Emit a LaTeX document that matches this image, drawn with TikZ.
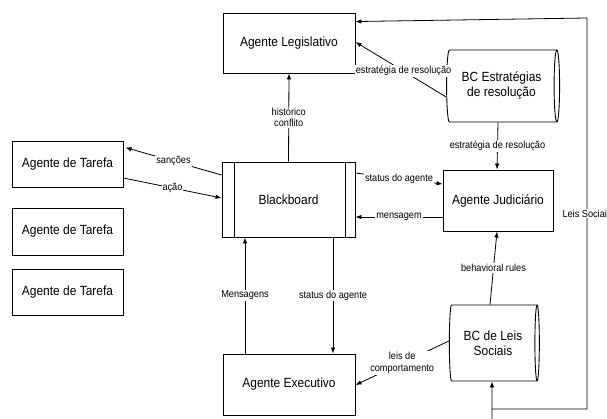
\documentclass[tikz,border=0pt]{standalone}
\usepackage{fontspec}
\setmainfont{Liberation Sans}[FakeStretch=0.9]
\usetikzlibrary{arrows.meta,shapes.geometric}
\begin{document}
\begin{tikzpicture}[x=1pt,y=-1pt,
  box/.style={draw,line width=0.9pt,inner sep=0pt,font=\fontsize{13.3}{15}\selectfont,align=center},
  cyl/.style={draw,line width=0.9pt,cylinder,shape border rotate=0,inner sep=0pt,font=\fontsize{13.3}{15}\selectfont,align=center},
  lbl/.style={fill=white,inner sep=1pt,font=\fontsize{10.2}{11.5}\selectfont,align=center},
  arr/.style={line width=0.8pt,-{Latex[length=6pt,width=4.5pt]}},
  ln/.style={line width=0.8pt}]
\path[use as bounding box,fill=white] (0,0) rectangle (607,419);

\node[box,minimum width=132pt,minimum height=60pt] (leg) at (289,43) {Agente Legislativo};
\node[box,minimum width=133pt,minimum height=75pt] (bb) at (288.5,199.5) {Blackboard};
\draw[line width=0.9pt] ([xshift=13pt]bb.north west) -- ([xshift=13pt]bb.south west);
\draw[line width=0.9pt] ([xshift=-10pt]bb.north east) -- ([xshift=-10pt]bb.south east);
\node[box,minimum width=111pt,minimum height=46pt] (t1) at (67.5,164) {Agente de Tarefa};
\node[box,minimum width=111pt,minimum height=47pt] (t2) at (67.5,231.5) {Agente de Tarefa};
\node[box,minimum width=111pt,minimum height=46pt] (t3) at (67.5,292) {Agente de Tarefa};
\node[box,minimum width=110pt,minimum height=61pt] (jud) at (498,200.5) {Agente Judiciário};
\node[box,minimum width=132pt,minimum height=61pt] (exe) at (289,384.5) {Agente Executivo};
\node[cyl,minimum height=113pt,minimum width=72pt,aspect=0.2] (bce) at (501.5,86) {BC Estratégias\\de resolução};
\node[cyl,minimum height=90pt,minimum width=76pt,aspect=0.18] (bcl) at (493,343) {BC de Leis\\Sociais};

% Tarefa <-> Blackboard
\draw[arr] ([yshift=24.5pt]bb.west) -- node[lbl]{sanções} ([xshift=2pt,yshift=-7pt]t1.north east);
\draw[arr] ([yshift=-14pt]t1.east) -- node[lbl]{ação} ([yshift=1.5pt]bb.west);

% Blackboard -> Legislativo
\draw[arr] (bb.north) -- node[lbl]{histórico\\conflito} (leg.south);
% BC Estrategias -> Legislativo
\draw[arr] ([yshift=-11pt]bce.west) -- node[lbl,pos=0.47]{estratégia de resolução} ([yshift=1pt]leg.east);
% BC Estrategias -> Judiciario
\draw[arr] ([xshift=-3.5pt]bce.south) -- node[lbl]{estratégia de resolução} ([xshift=-1pt]jud.north);
% Blackboard <-> Judiciario
\draw[arr] ([yshift=26.5pt]bb.east) -- node[lbl]{status do agente} ([yshift=16.5pt]jud.west);
\draw[arr] ([yshift=-16.5pt]jud.west) -- node[lbl]{mensagem} ([yshift=-17.5pt]bb.east);
% BC Leis -> Judiciario
\draw[arr] ([xshift=-3pt]bcl.north) -- node[lbl]{behavioral rules} ([xshift=-1pt]jud.south);
% Executivo <-> Blackboard
\draw[arr] ([xshift=-44pt]exe.north) -- node[lbl]{Mensagens} ([xshift=-43.5pt]bb.south);
\draw[arr] ([xshift=44.5pt]bb.south) -- node[lbl]{status do agente} ([xshift=44pt]exe.north);
% BC Leis -> Executivo
\draw[arr] ([yshift=2pt]bcl.west) -- node[lbl]{leis de\\comportamento} ([yshift=-0.5pt]exe.east);

% Leis Sociais loop
\coordinate (lb) at (492,419);
\coordinate (lc) at (492,409);
\coordinate (rc) at (587,409);
\coordinate (rt) at (587,18);
\draw[arr] (lb) -- ([xshift=-1pt]bcl.south);
\draw[arr] (lc) -- (rc) -- node[lbl,pos=0.5]{Leis Sociais} (rt) -- ([yshift=-9pt]leg.north east);
\end{tikzpicture}
\end{document}
